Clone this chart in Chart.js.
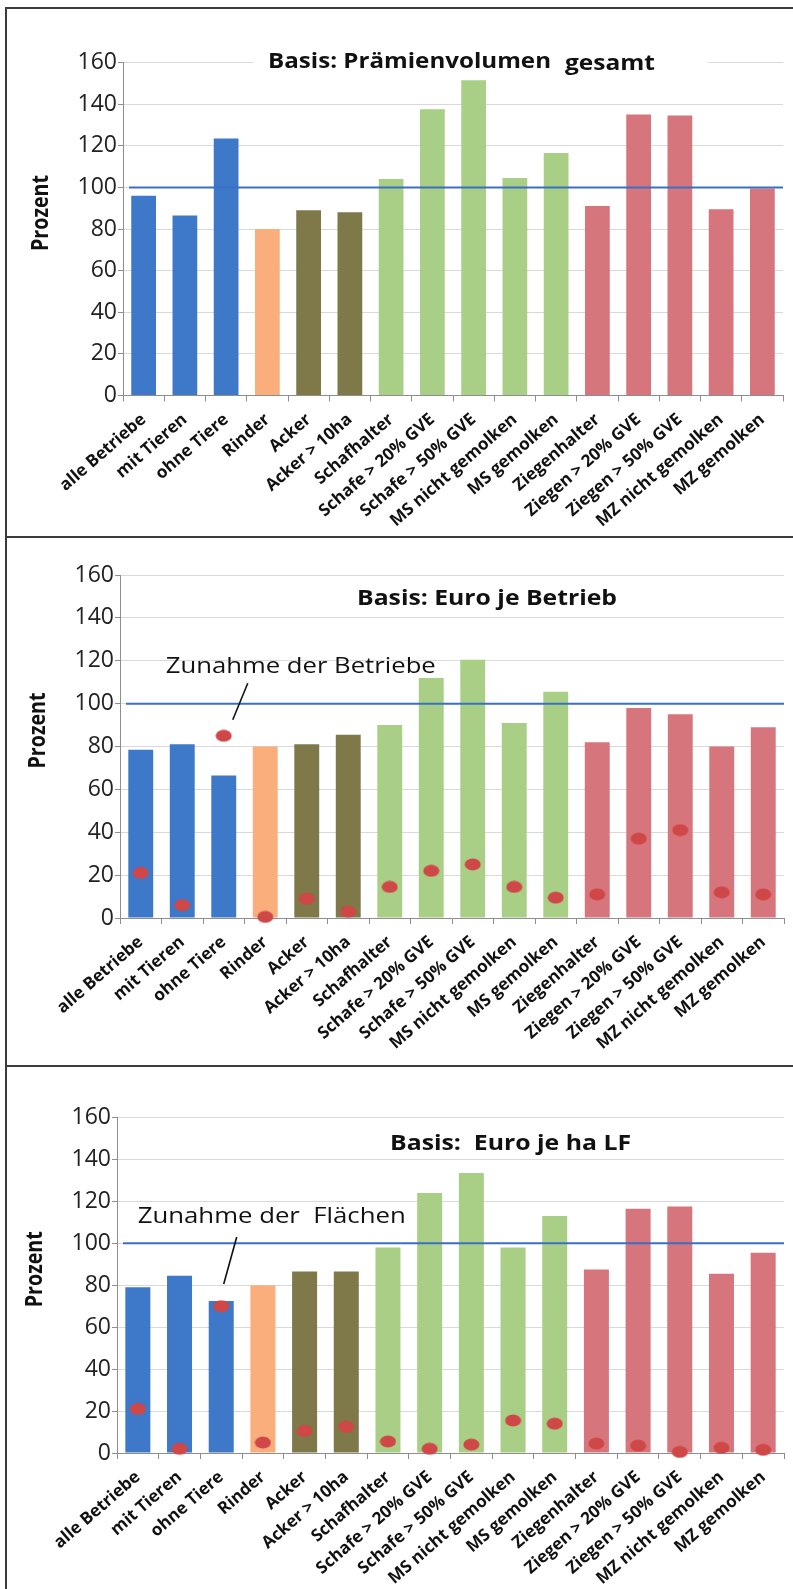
<!DOCTYPE html>
<html>
<head>
<meta charset="utf-8">
<title>Prämienvergleich</title>
<script src="https://cdn.jsdelivr.net/npm/chart.js@4.4.1/dist/chart.umd.min.js"></script>
<style>
  html, body { margin: 0; padding: 0; background: #fff; }
  body { width: 793px; height: 1589px; position: relative; overflow: hidden; }
  .panel { position: absolute; left: 5px; width: 786px; border-top: 2px solid #3c3c3c; border-left: 2px solid #3c3c3c; }
  #p1 { top: 7px; height: 527px; }
  #p2 { top: 536px; height: 527px; }
  #p3 { top: 1065px; height: 522px; }
  .panel canvas { display: block; }
</style>
</head>
<body>
<div class="panel" id="p1"><canvas id="c1"></canvas></div>
<div class="panel" id="p2"><canvas id="c2"></canvas></div>
<div class="panel" id="p3"><canvas id="c3"></canvas></div>

<script>
// --- Daten ---
const categories = ['alle Betriebe', 'mit Tieren', 'ohne Tiere', 'Rinder', 'Acker', 'Acker > 10ha',
    'Schafhalter', 'Schafe > 20% GVE', 'Schafe > 50% GVE', 'MS nicht gemolken', 'MS gemolken',
    'Ziegenhalter', 'Ziegen > 20% GVE', 'Ziegen > 50% GVE', 'MZ nicht gemolken', 'MZ gemolken'];
const yTicks = [0, 20, 40, 60, 80, 100, 120, 140, 160];
const referenceValue = 100;

// Basis: Prämienvolumen gesamt
const praemieGesamt = [96, 86.5, 123.5, 80, 89, 88, 104, 137.5, 151.5, 104.5, 116.5, 91, 135, 134.5, 89.5, 99.5];
// Basis: Euro je Betrieb
const euroBetrieb = [78.5, 81, 66.5, 80, 81, 85.5, 90, 112, 120.5, 91, 105.5, 82, 98, 95, 80, 89];
const zunahmeBetriebe = [21, 6, 85, 0.5, 9, 3, 14.5, 22, 25, 14.5, 9.5, 11, 37, 41, 12, 11];
// Basis: Euro je ha LF
const euroHa = [79, 84.5, 72.5, 80, 86.5, 86.5, 98, 124, 133.5, 98, 113, 87.5, 116.5, 117.5, 85.5, 95.5];
const zunahmeFlaechen = [21, 2, 70, 5, 10.5, 12.5, 5.5, 2, 4, 15.5, 14, 4.5, 3.5, 0.5, 2.5, 1.5];

// --- Farben ---
const BLUE = '#3E78C8', ORANGE = '#F9AE7C', OLIVE = '#7F7848', GREEN = '#A8CF85', ROSE = '#D6767C';
const barColors = [BLUE, BLUE, BLUE, ORANGE, OLIVE, OLIVE, GREEN, GREEN, GREEN, GREEN, GREEN, ROSE, ROSE, ROSE, ROSE, ROSE];
const DOT = '#D04747';
const LINE_BLUE = '#3B6FC6';
const GRID = '#D9D9D9';
const AXIS = '#8E8E8E';

function ellipseDot(w, h, color) {
    const c = document.createElement('canvas');
    c.width = w; c.height = h;
    const g = c.getContext('2d');
    g.fillStyle = color;
    g.beginPath();
    g.ellipse(w / 2, h / 2, w / 2 - 0.5, h / 2 - 0.5, 0, 0, Math.PI * 2);
    g.fill();
    return c;
}
const dotImg = ellipseDot(17, 13, DOT);

// Text horizontal auf eine Zielbreite ziehen (Original ist gestreckt)
function stretchText(ctx, text, x, y, font, width) {
    ctx.save();
    ctx.font = font;
    const w = ctx.measureText(text).width;
    ctx.translate(x, y);
    ctx.scale(width / w, 1);
    ctx.fillStyle = '#111';
    ctx.textAlign = 'left';
    ctx.textBaseline = 'alphabetic';
    ctx.fillText(text, 0, 0);
    ctx.restore();
}

const decoPlugin = {
    id: 'deco',
    beforeDatasetsDraw(chart, args, opts) {
        if (!opts.titleBg) return;
        const ctx = chart.ctx, b = opts.titleBg;
        ctx.save();
        ctx.fillStyle = '#fff';
        ctx.fillRect(b[0], b[1], b[2], b[3]);
        ctx.restore();
    },
    afterDatasetsDraw(chart) {
        // 100-%-Linie
        const ctx = chart.ctx, area = chart.chartArea;
        const y = chart.scales.y.getPixelForValue(referenceValue);
        ctx.save();
        ctx.strokeStyle = LINE_BLUE;
        ctx.lineWidth = 2;
        ctx.beginPath();
        ctx.moveTo(area.left + 6, y);
        ctx.lineTo(area.right, y);
        ctx.stroke();
        ctx.restore();
    },
    afterDraw(chart, args, opts) {
        const ctx = chart.ctx, area = chart.chartArea;
        const xs = chart.scales.x, ys = chart.scales.y;

        // Titel
        (opts.title || []).forEach(t => stretchText(ctx, t.text, t.x, t.y, 'bold 21px "Open Sans"', t.w));

        // Achsentitel "Prozent"
        ctx.save();
        ctx.translate(area.left - 82, (area.top + area.bottom) / 2 - 16);
        ctx.rotate(-Math.PI / 2);
        ctx.font = 'bold 23px "Open Sans"';
        const pw = ctx.measureText('Prozent').width;
        ctx.scale(76 / pw, 1);
        ctx.fillStyle = '#111';
        ctx.textAlign = 'center';
        ctx.textBaseline = 'middle';
        ctx.fillText('Prozent', 0, 0);
        ctx.restore();

        // Hinweis mit Linie
        const a = opts.note;
        if (a) {
            const cx = xs.getPixelForValue(a.index);
            stretchText(ctx, a.text, cx + a.textDx, ys.getPixelForValue(a.textValue), '22px "Open Sans"', a.textW);
            ctx.save();
            ctx.strokeStyle = '#111';
            ctx.lineWidth = 1.6;
            ctx.beginPath();
            ctx.moveTo(cx + a.from[0], ys.getPixelForValue(a.from[1]));
            ctx.lineTo(cx + a.to[0], ys.getPixelForValue(a.to[1]));
            ctx.stroke();
            ctx.restore();
        }
    }
};

function buildChart(id, cfg) {
    const canvas = document.getElementById(id);
    const W = canvas.parentElement.clientWidth, H = canvas.parentElement.clientHeight;
    canvas.width = W; canvas.height = H;
    canvas.style.width = W + 'px'; canvas.style.height = H + 'px';

    const datasets = [];
    if (cfg.dots) {
        datasets.push({
            type: 'line', data: cfg.dots, showLine: false,
            pointStyle: dotImg, pointRadius: 8, clip: false, order: 1
        });
    }
    datasets.push({
        type: 'bar', data: cfg.bars, backgroundColor: barColors,
        barPercentage: 0.6, categoryPercentage: 1, order: 2
    });

    return new Chart(canvas, {
        type: 'bar',
        data: { labels: categories, datasets },
        plugins: [decoPlugin],
        options: {
            responsive: false,
            animation: false,
            devicePixelRatio: 1,
            layout: { padding: { top: cfg.area.top, right: W - cfg.area.right, left: 0, bottom: 0 } },
            plugins: {
                legend: { display: false },
                tooltip: { enabled: false },
                deco: { title: cfg.title, titleBg: cfg.titleBg, note: cfg.note }
            },
            scales: {
                x: {
                    offset: true,
                    grid: { display: true, drawOnChartArea: false, offset: true, tickLength: 6, color: AXIS },
                    border: { color: AXIS, width: 1 },
                    ticks: {
                        autoSkip: false, minRotation: 41, maxRotation: 41, padding: 8,
                        color: '#111', font: { family: 'Open Sans', weight: 'bold', size: 17 }
                    },
                    afterFit(scale) { scale.height = H - cfg.area.bottom; }
                },
                y: {
                    min: 0, max: 160,
                    afterBuildTicks(axis) { axis.ticks = yTicks.map(v => ({ value: v })); },
                    grid: { color: GRID, tickColor: AXIS, tickLength: 5 },
                    border: { color: AXIS, width: 1 },
                    ticks: { padding: 1, color: '#222', font: { family: 'Open Sans', size: 23 } },
                    afterFit(scale) { scale.width = cfg.area.left; }
                }
            }
        }
    });
}

buildChart('c1', {
    bars: praemieGesamt,
    area: { left: 116, right: 776, top: 53.5, bottom: 386.5 },
    titleBg: [246, 40, 455, 31],
    title: [
        { text: 'Basis: Prämienvolumen', x: 261, y: 58.6, w: 283 },
        { text: 'gesamt', x: 558, y: 60.5, w: 90 }
    ]
});

buildChart('c2', {
    bars: euroBetrieb,
    dots: zunahmeBetriebe,
    area: { left: 113, right: 779, top: 37, bottom: 380 },
    title: [{ text: 'Basis: Euro je Betrieb', x: 350, y: 67, w: 260 }],
    note: { text: 'Zunahme der Betriebe', index: 2, textDx: -58, textValue: 114.4, textW: 270,
            from: [24, 109.5], to: [9, 92.5] }
});

buildChart('c3', {
    bars: euroHa,
    dots: zunahmeFlaechen,
    area: { left: 110, right: 785, top: 50.5, bottom: 386 },
    title: [{ text: 'Basis:  Euro je ha LF', x: 383, y: 82.6, w: 241 }],
    note: { text: 'Zunahme der  Flächen', index: 2, textDx: -83.5, textValue: 109.7, textW: 268,
            from: [15.5, 103], to: [2.5, 80.6] }
});
</script>
</body>
</html>
